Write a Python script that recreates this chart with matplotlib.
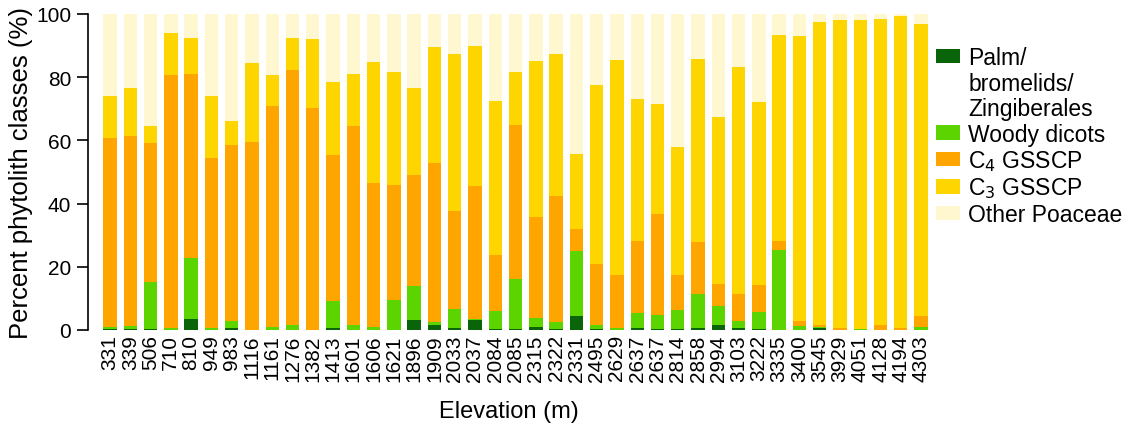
import numpy as np
import matplotlib.pyplot as plt
from matplotlib.patches import Patch

# ── Data (percent of phytolith classes per sample) ──────────────────
elevation = ["331", "339", "506", "710", "810", "949", "983", "1116", "1161",
             "1276", "1382", "1413", "1601", "1606", "1621", "1896", "1909",
             "2033", "2037", "2084", "2085", "2315", "2322", "2331", "2495",
             "2629", "2637", "2637", "2814", "2858", "2994", "3103", "3222",
             "3335", "3400", "3545", "3929", "4051", "4128", "4194", "4303"]

palm = [0.3, 0.2, 0.2, 0.1, 3.5, 0.1, 0.5, 0.0, 0.1, 0.1, 0.0, 0.5, 0.1, 0.1,
        0.1, 3.2, 1.7, 0.5, 3.2, 0.3, 0.3, 1.0, 0.2, 4.3, 0.2, 0.1, 0.5, 0.2,
        0.2, 0.5, 1.5, 0.5, 0.3, 0.0, 0.1, 0.7, 0.0, 0.0, 0.0, 0.0, 0.0]
woody = [0.6, 1.0, 14.9, 0.4, 19.3, 0.6, 2.3, 0.0, 0.9, 1.6, 0.0, 8.8, 1.6, 0.9,
         9.4, 10.6, 0.7, 6.1, 0.4, 5.8, 15.8, 2.7, 2.2, 20.8, 1.4, 0.4, 4.9,
         4.6, 6.1, 10.8, 6.0, 2.4, 5.5, 25.4, 1.1, 0.1, 0.0, 0.3, 0.0, 0.0, 0.8]
c4 = [59.8, 60.3, 44.0, 80.2, 58.3, 53.7, 55.7, 59.6, 70.0, 80.6, 70.1, 46.2,
      63.0, 45.6, 36.4, 35.2, 50.4, 31.0, 41.9, 17.7, 48.8, 32.0, 40.1, 6.9,
      19.3, 16.9, 22.7, 31.9, 11.1, 16.7, 7.1, 8.5, 8.5, 2.7, 1.7, 0.8, 0.5,
      0.1, 1.6, 0.7, 3.5]
c3 = [13.4, 15.0, 5.5, 13.3, 11.2, 19.7, 7.6, 24.9, 9.6, 10.0, 22.0, 23.0,
      16.2, 38.1, 35.6, 27.5, 36.8, 49.6, 44.3, 48.8, 16.6, 49.5, 45.0, 23.6,
      56.7, 68.1, 45.0, 34.8, 40.6, 57.8, 52.8, 71.7, 58.0, 65.4, 90.0, 96.0,
      97.7, 97.6, 96.8, 98.8, 92.4]
other = [25.9, 23.5, 35.4, 6.0, 7.7, 25.9, 33.9, 15.5, 19.4, 7.7, 7.9, 21.5,
         19.1, 15.3, 18.5, 23.5, 10.4, 12.8, 10.2, 27.4, 18.5, 14.8, 12.5, 44.4,
         22.4, 14.5, 26.9, 28.5, 42.0, 14.2, 32.6, 16.9, 27.7, 6.5, 7.1, 2.4,
         1.8, 2.0, 1.6, 0.5, 3.3]

classes = [("Palm/", palm, "#0a640a"),
           ("Woody dicots", woody, "#5cd400"),
           ("C$_4$ GSSCP", c4, "#ffa500"),
           ("C$_3$ GSSCP", c3, "#ffd500"),
           ("Other Poaceae", other, "#fff7d0")]

# ── Style ────────────────────────────────────────────────────────────
plt.rcParams.update({
    "font.family": "Liberation Sans",
    "font.size": 15,
})

fig = plt.figure(figsize=(11.41, 4.27), dpi=100)
ax = fig.add_axes([88 / 1141, 1 - 331 / 427, (930 - 88) / 1141, (331 - 15) / 427])

x = np.arange(len(elevation))
bottom = np.zeros(len(elevation))
for label, vals, color in classes:
    vals = np.array(vals)
    ax.bar(x, vals, width=0.66, bottom=bottom, color=color, linewidth=0)
    bottom += vals

ax.set_xlim(-1.085, 40.44)
ax.set_ylim(0, 100)
ax.set_yticks([0, 20, 40, 60, 80, 100])
ax.set_xticks(x)
ax.set_xticklabels(elevation, rotation=90, fontsize=15)
ax.tick_params(axis="x", length=0, pad=3)
ax.tick_params(axis="y", length=8, width=1.2, labelsize=15, pad=4)

for s in ("top", "right", "bottom"):
    ax.spines[s].set_visible(False)
ax.spines["left"].set_linewidth(1.2)

ax.set_ylabel("Percent phytolith classes (%)", fontsize=18.5, labelpad=2)
ax.set_xlabel("Elevation (m)", fontsize=17, labelpad=14)

# ── Legend (first-line aligned multi-line label) ─────────────────────
blank = Patch(facecolor="none", edgecolor="none")
handles = [Patch(facecolor=classes[0][2]), blank, blank] + \
          [Patch(facecolor=c) for _, _, c in classes[1:]]
labels = ["Palm/", "bromelids/", "Zingiberales"] + [l for l, _, _ in classes[1:]]
fig.legend(handles, labels, loc="upper left",
           bbox_to_anchor=(936 / 1141, 1 - 47 / 427),
           frameon=False, fontsize=16.5, handlelength=1.05, handleheight=0.6,
           handletextpad=0.35, labelspacing=0.11, borderpad=0, borderaxespad=0)

fig.savefig("out.png", dpi=100)
